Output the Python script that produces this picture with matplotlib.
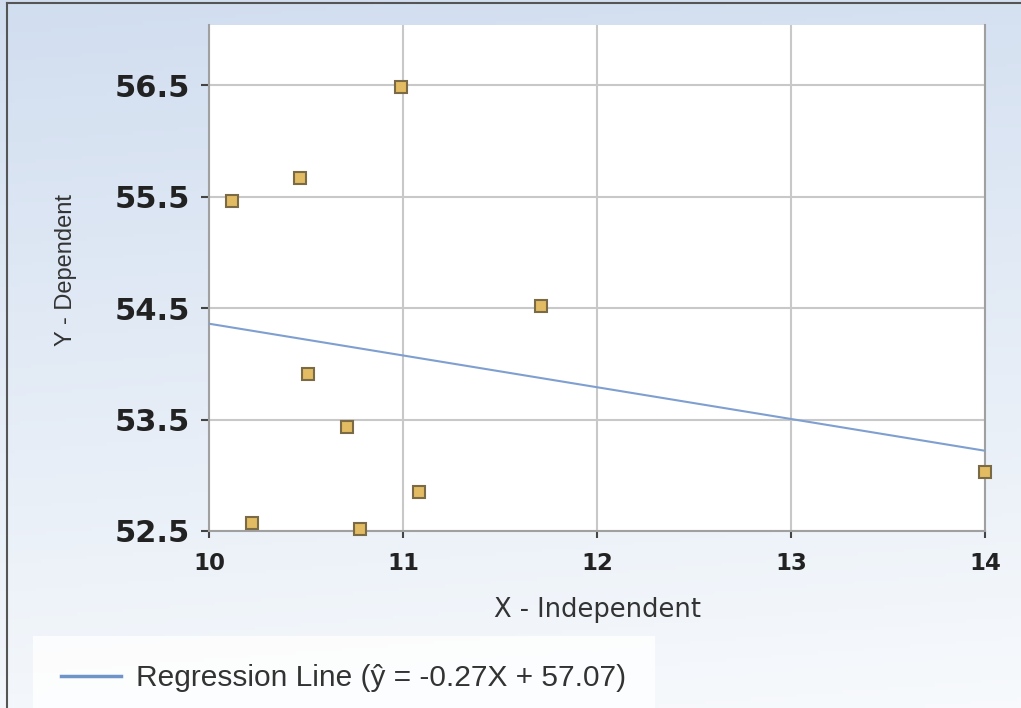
import numpy as np
import matplotlib
matplotlib.use("Agg")
from matplotlib import pyplot as plt
from matplotlib.lines import Line2D

# data
x_vals = [10.12, 10.47, 10.99, 11.71, 10.51, 10.71, 11.08, 10.22, 10.78, 14.0]
y_vals = [55.46, 55.67, 56.48, 54.52, 53.91, 53.43, 52.85, 52.57, 52.52, 53.03]
line_x = [10, 14]
line_y = [54.36, 53.22]
legend_label = "Regression Line (\u0177 = -0.27X + 57.07)"
x_ticks = [10, 11, 12, 13, 14]
y_ticks = [52.5, 53.5, 54.5, 55.5, 56.5]

fig = plt.figure(figsize=(10.21, 7.08), dpi=100)

# background gradient
bg = fig.add_axes([0, 0, 1, 1], zorder=-10)
gy = np.linspace(0, 1, 200)[:, None]
gx = np.linspace(0, 1, 200)[None, :]
top = np.array([0.82, 0.87, 0.94])
bot = np.array([0.97, 0.98, 0.99])
t = np.clip(gy * 0.9 + gx * 0.1, 0, 1)[..., None]
img = top * (1 - t) + bot * t
bg.imshow(img, extent=[0, 1, 0, 1], aspect="auto", origin="upper")
bg.set_xlim(0, 1); bg.set_ylim(0, 1)
bg.axis("off")
# border top/left
bg.plot([7/1021, 7/1021], [0, 1 - 3/708], color="#555555", lw=1.5)
bg.plot([7/1021, 1], [1 - 3/708, 1 - 3/708], color="#555555", lw=1.5)

ax = fig.add_axes([209/1021, 1 - 531/708, 776/1021, 506/708])
ax.set_facecolor("white")
ax.set_xlim(10, 14)
ax.set_ylim(52.5, 57.04)
ax.set_xticks(x_ticks)
ax.set_yticks(y_ticks)
ax.set_yticklabels([f"{v:.1f}" for v in y_ticks], fontsize=22, fontweight="bold", color="#222222")
ax.set_xticklabels([str(v) for v in x_ticks], fontsize=16.5, fontweight="bold", color="#222222")
ax.tick_params(axis="y", length=6, width=1.5, color="#444444", pad=8)
ax.tick_params(axis="x", length=5, width=1.5, color="#444444", pad=10)
ax.grid(True, color="#c8c8c8", lw=1.5)
ax.set_axisbelow(True)
for s in ["left", "bottom", "right"]:
    ax.spines[s].set_color("#a0a0a0")
    ax.spines[s].set_linewidth(1.5)
ax.spines["top"].set_visible(False)

ax.plot(line_x, line_y, color="#7e9fd0", lw=1.5, zorder=3)
ax.plot(x_vals, y_vals, ls="none", marker="s", markersize=8, markerfacecolor="#e2bb62",
        markeredgecolor="#7a6a45", markeredgewidth=1.5, zorder=4, clip_on=False)

ax.set_xlabel("X - Independent", fontsize=18.5, color="#333333")
ax.xaxis.set_label_coords(0.5, -0.13)
ax.set_ylabel("Y - Dependent", fontsize=17, color="#333333", family="Liberation Sans")
ax.yaxis.set_label_coords(-0.17, 0.516)

handle = Line2D([], [], color="#6f94c8", lw=2.5)
leg = fig.legend([handle], [legend_label], loc="center left",
                 bbox_to_anchor=(33/1021, 1 - 678/708), frameon=True,
                 handlelength=2.0, handletextpad=0.5, borderpad=0.95, borderaxespad=0,
                 prop={"family": "Liberation Sans", "size": 21.5})
leg.get_frame().set_facecolor("white")
leg.get_frame().set_edgecolor("none")
leg.get_frame().set_alpha(0.8)
leg.get_frame().set_boxstyle("square", pad=0)
for txt in leg.get_texts():
    txt.set_color("#333333")

fig.savefig("out.png", dpi=100)
